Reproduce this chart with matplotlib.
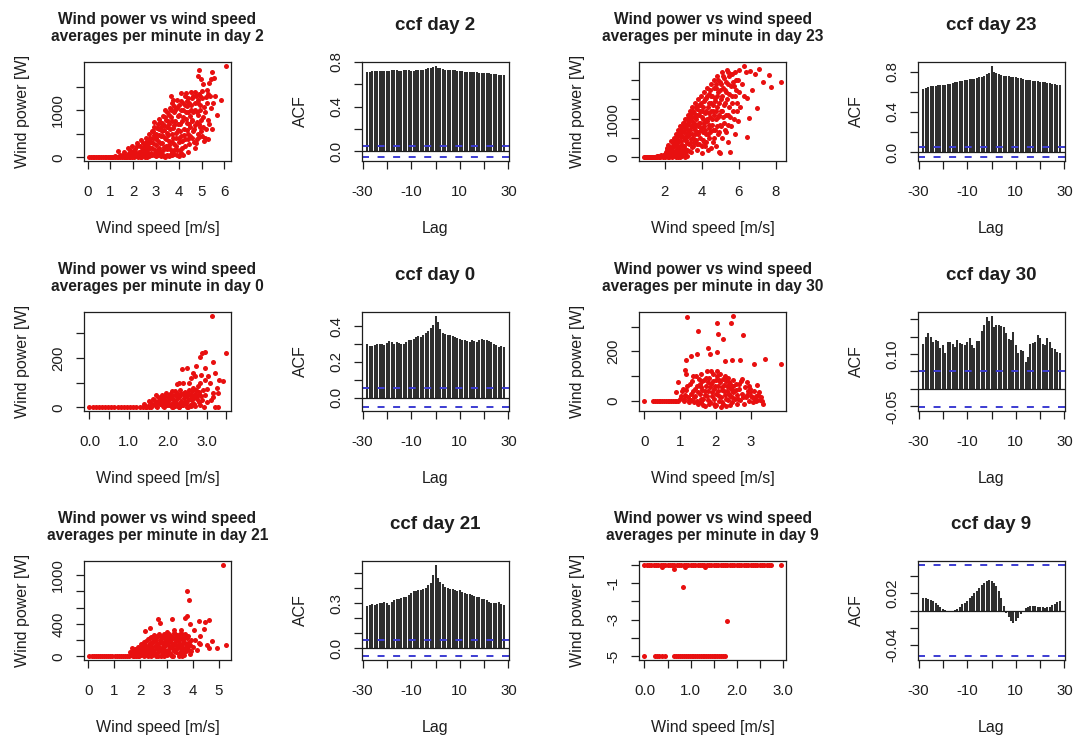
import numpy as np
import matplotlib
matplotlib.use("Agg")
import matplotlib.pyplot as plt

plt.rcParams['font.family'] = ['Liberation Sans', 'DejaVu Sans']

# ---- cross-correlation values, lags -28..28 ----
lags = np.arange(-28, 29)
clim = 0.0527   # 2/sqrt(1440)

acf_d2 = [0.710, 0.715, 0.718, 0.720, 0.722, 0.722, 0.720, 0.718, 0.720, 0.722,
          0.724, 0.725, 0.724, 0.722, 0.722, 0.724, 0.725, 0.724, 0.722, 0.722,
          0.724, 0.726, 0.728, 0.732, 0.738, 0.742, 0.746, 0.752, 0.765, 0.750,
          0.742, 0.736, 0.732, 0.730, 0.728, 0.726, 0.724, 0.722, 0.718, 0.716,
          0.714, 0.712, 0.712, 0.710, 0.708, 0.708, 0.706, 0.705, 0.704, 0.702,
          0.700, 0.697, 0.694, 0.690, 0.687, 0.684, 0.682]
acf_d23 = [0.630, 0.640, 0.648, 0.652, 0.658, 0.660, 0.662, 0.665, 0.666, 0.668,
           0.672, 0.678, 0.685, 0.692, 0.700, 0.706, 0.710, 0.714, 0.718, 0.722,
           0.726, 0.730, 0.735, 0.742, 0.750, 0.760, 0.772, 0.790, 0.858, 0.800,
           0.782, 0.772, 0.766, 0.760, 0.756, 0.752, 0.748, 0.745, 0.742, 0.738,
           0.732, 0.726, 0.720, 0.716, 0.712, 0.710, 0.708, 0.705, 0.700, 0.696,
           0.692, 0.688, 0.684, 0.680, 0.676, 0.670, 0.662]
acf_d0 = [0.300, 0.290, 0.288, 0.295, 0.300, 0.302, 0.298, 0.292, 0.305, 0.318,
          0.312, 0.300, 0.310, 0.305, 0.298, 0.302, 0.312, 0.320, 0.325, 0.330,
          0.340, 0.342, 0.340, 0.350, 0.362, 0.375, 0.392, 0.405, 0.458, 0.420,
          0.382, 0.362, 0.355, 0.350, 0.350, 0.345, 0.340, 0.335, 0.330, 0.325,
          0.320, 0.315, 0.312, 0.320, 0.316, 0.312, 0.322, 0.328, 0.325, 0.322,
          0.318, 0.310, 0.302, 0.292, 0.285, 0.288, 0.283]
acf_d30 = [0.130, 0.149, 0.161, 0.149, 0.135, 0.141, 0.138, 0.116, 0.125, 0.102,
           0.135, 0.135, 0.130, 0.120, 0.140, 0.133, 0.130, 0.125, 0.135, 0.146,
           0.127, 0.116, 0.138, 0.138, 0.165, 0.182, 0.205, 0.196, 0.210, 0.177,
           0.184, 0.182, 0.179, 0.177, 0.161, 0.144, 0.140, 0.163, 0.127, 0.102,
           0.113, 0.109, 0.078, 0.092, 0.130, 0.133, 0.135, 0.154, 0.146, 0.130,
           0.127, 0.147, 0.135, 0.116, 0.114, 0.107, 0.102]
acf_d21 = [0.283, 0.290, 0.293, 0.288, 0.295, 0.300, 0.302, 0.305, 0.298, 0.290,
           0.310, 0.318, 0.325, 0.330, 0.335, 0.340, 0.338, 0.355, 0.368, 0.378,
           0.382, 0.386, 0.390, 0.395, 0.402, 0.420, 0.435, 0.485, 0.555, 0.465,
           0.440, 0.425, 0.410, 0.400, 0.395, 0.392, 0.388, 0.380, 0.385, 0.375,
           0.368, 0.360, 0.358, 0.352, 0.345, 0.340, 0.338, 0.330, 0.325, 0.318,
           0.310, 0.302, 0.300, 0.298, 0.305, 0.295, 0.288]
acf_d9 = [0.0143, 0.0140, 0.0132, 0.0120, 0.0105, 0.0088, 0.0068, 0.0045, 0.0022, 0.0005,
          -0.0012, -0.0015, -0.0008, 0.0005, 0.0020, 0.0040, 0.0070, 0.0090, 0.0110, 0.0140,
          0.0170, 0.0200, 0.0226, 0.0260, 0.0290, 0.0320, 0.0340, 0.0347, 0.0340, 0.0320,
          0.0280, 0.0220, 0.0140, 0.0050, -0.0030, -0.0080, -0.0120, -0.0138, -0.0125, -0.0090,
          -0.0045, -0.0005, 0.0025, 0.0042, 0.0050, 0.0052, 0.0050, 0.0045, 0.0040, 0.0035,
          0.0032, 0.0035, 0.0045, 0.0060, 0.0078, 0.0095, 0.0110]

# ---- per-minute averages (wind speed [m/s], wind power [W]) ----
pts_d2 = [
    (0.08, 0), (0.15, 0), (0.22, 0), (0.3, 0), (0.38, 0), (0.45, 0), (0.52, 0), (0.6, 0),
    (0.68, 0), (0.75, 0), (0.82, 0), (0.9, 0), (0.98, 0), (1.05, 0), (1.12, 0), (1.2, 0),
    (1.28, 0), (1.35, 0), (1.42, 0), (1.5, 0), (1.58, 0), (1.65, 0), (1.72, 0), (1.8, 0),
    (1.88, 0), (1.95, 0), (2.05, 0), (2.2, 0), (2.35, 0), (2.5, 0),
    (1.0, 10), (1.2, 25), (1.32, 143), (1.4, 40),
    (1.55, 60), (1.6, 120), (1.7, 30), (1.75, 200), (1.8, 90), (1.85, 150), (1.9, 40),
    (1.95, 250), (2.0, 110),
    (2.05, 60), (2.1, 180), (2.15, 300), (2.2, 20), (2.25, 120), (2.3, 240), (2.32, 357),
    (2.4, 80), (2.45, 190), (2.5, 290), (2.5, 30),
    (2.55, 420), (2.6, 150), (2.62, 250), (2.65, 60), (2.68, 500), (2.7, 350), (2.75, 200),
    (2.8, 100), (2.82, 550), (2.85, 300), (2.88, 420), (2.9, 750), (2.92, 650), (2.95, 160),
    (2.98, 380), (3.0, 500), (3.0, 260), (2.6, 10), (2.8, 40), (3.0, 20),
    (3.05, 80), (3.08, 700), (3.1, 350), (3.12, 600), (3.15, 200), (3.18, 750), (3.2, 450),
    (3.22, 30), (3.25, 550), (3.28, 300), (3.3, 880), (3.32, 150), (3.35, 680), (3.38, 420),
    (3.4, 1000), (3.42, 250), (3.45, 800), (3.48, 520), (3.5, 60), (3.5, 950), (3.3, 60),
    (3.2, 90), (3.4, 15),
    (3.55, 350), (3.58, 700), (3.6, 1050), (3.62, 180), (3.65, 850), (3.68, 500), (3.7, 1150),
    (3.72, 50), (3.75, 620), (3.75, 1210), (3.78, 950), (3.8, 280), (3.85, 780), (3.88, 420),
    (3.9, 1210), (3.92, 150), (3.95, 880), (3.98, 580), (4.0, 1100), (4.0, 320), (3.65, 1290),
    (3.6, 40), (3.8, 80), (4.0, 30),
    (4.05, 700), (4.08, 1000), (4.1, 450), (4.11, 1357), (4.15, 200), (4.18, 850), (4.2, 1150),
    (4.22, 600), (4.25, 1300), (4.28, 380), (4.3, 950), (4.33, 1371), (4.35, 720), (4.38, 1080),
    (4.4, 500), (4.42, 1250), (4.45, 280), (4.48, 880), (4.54, 1392), (4.5, 650), (4.2, 60),
    (4.4, 120),
    (4.55, 1100), (4.58, 420), (4.6, 800), (4.62, 1300), (4.65, 600), (4.7, 1000), (4.72, 1380),
    (4.75, 300), (4.78, 750), (4.83, 1214), (4.82, 500), (4.85, 900), (4.88, 1350), (4.9, 1856),
    (4.92, 650), (4.95, 1100), (4.97, 1664), (5.0, 450), (4.83, 1714), (4.9, 428), (4.7, 200),
    (5.05, 850), (5.11, 1071), (5.12, 350), (5.19, 1285), (5.2, 600), (5.25, 1420), (5.33, 714),
    (5.33, 1571), (5.4, 1050), (5.47, 1800), (5.54, 1678), (5.6, 1300), (5.69, 892),
    (5.86, 1214), (6.05, 1942), (5.3, 380), (5.15, 420),
    (1.52, 20), (1.62, 50), (1.68, 15), (1.78, 60), (1.83, 25), (1.93, 80), (1.98, 30),
    (2.08, 20), (2.23, 60), (2.33, 10), (2.42, 40), (2.52, 70), (2.7, 25), (2.9, 60),
    (3.1, 45), (3.35, 30), (3.55, 20), (3.7, 110), (3.9, 60), (4.1, 100),
    (2.03, 140), (2.13, 90), (2.18, 230), (2.28, 40), (2.38, 150), (2.43, 300), (2.48, 110),
    (2.53, 210), (2.57, 330), (2.63, 100), (2.67, 280), (2.73, 420), (2.77, 50), (2.79, 320),
    (2.84, 200), (2.87, 560), (2.93, 470), (2.97, 90), (3.02, 400), (3.04, 620), (3.07, 150),
    (3.11, 480), (3.14, 820), (3.17, 310), (3.21, 650), (3.24, 120), (3.27, 720), (3.29, 450),
    (3.33, 580), (3.36, 220), (3.39, 860), (3.44, 380), (3.46, 640), (3.49, 180), (3.52, 760),
    (3.54, 480), (3.57, 900), (3.59, 260), (3.63, 600), (3.66, 1000), (3.69, 320), (3.71, 780),
    (3.74, 420), (3.77, 1080), (3.79, 150), (3.81, 680), (3.84, 1000), (3.87, 520), (3.89, 230),
    (3.93, 1050), (3.96, 700), (3.99, 400), (4.02, 900), (4.04, 160), (4.07, 560), (4.09, 1200),
    (4.13, 780), (4.16, 350), (4.19, 1000), (4.23, 480), (4.26, 1100), (4.29, 250), (4.31, 820),
    (4.34, 580), (4.36, 1200), (4.39, 380), (4.41, 950), (4.44, 700), (4.46, 1150), (4.49, 450),
    (4.52, 1000), (4.56, 780), (4.59, 1250), (4.61, 550), (4.64, 950), (4.67, 320), (4.69, 1150),
    (4.73, 680), (4.76, 1300), (4.79, 950), (4.81, 380), (4.84, 1150), (4.87, 700), (4.91, 1000),
    (4.94, 1300), (4.96, 550), (4.99, 800), (5.02, 1250), (5.08, 650), (5.14, 950), (5.22, 1150),
    (5.28, 800), (5.37, 1300), (5.45, 600), (5.52, 1150), (5.27, 1350), (5.43, 1650),
    (5.05, 1550), (5.0, 1400),
]
pts_d23 = [
    (0.9, 0), (1.0, 5), (1.1, 0), (1.2, 10), (1.3, 0), (1.4, 15), (1.5, 5), (1.6, 30),
    (1.7, 10), (1.8, 50), (1.9, 20), (2.0, 80), (2.1, 40), (2.0, 10), (1.6, 0), (1.05, 20),
    (1.25, 0), (1.45, 0), (1.75, 0), (2.2, 0), (2.4, 10), (2.6, 0), (2.8, 20),
    (0.95, 0), (1.15, 0), (1.35, 0), (1.55, 10), (1.65, 40), (1.85, 30), (1.95, 60),
    (2.25, 20), (2.45, 70), (2.7, 10), (2.9, 30), (3.1, 0),
    (2.05, 150), (2.1, 250), (2.15, 60), (2.2, 320), (2.25, 180), (2.3, 100), (2.35, 420),
    (2.4, 260), (2.45, 30), (2.5, 500), (2.5, 150),
    (2.55, 350), (2.6, 600), (2.62, 80), (2.65, 220), (2.7, 450), (2.72, 700), (2.75, 150),
    (2.8, 550), (2.82, 300), (2.85, 800), (2.88, 40), (2.9, 420), (2.92, 650), (2.95, 200),
    (2.98, 900), (3.0, 520),
    (3.05, 300), (3.08, 750), (3.1, 100), (3.12, 1000), (3.15, 450), (3.18, 620), (3.2, 850),
    (3.22, 200), (3.25, 1100), (3.28, 550), (3.3, 350), (3.32, 950), (3.35, 700), (3.38, 1200),
    (3.4, 150), (3.42, 480), (3.45, 850), (3.48, 1050), (3.5, 600), (3.5, 1300), (3.2, 30),
    (3.55, 300), (3.58, 900), (3.6, 1150), (3.62, 700), (3.65, 1400), (3.68, 450), (3.7, 1000),
    (3.72, 1250), (3.75, 200), (3.78, 800), (3.8, 1500), (3.82, 600), (3.85, 1100), (3.88, 350),
    (3.9, 1350), (3.92, 900), (3.95, 1600), (3.98, 700), (4.0, 1200), (4.0, 100),
    (4.05, 450), (4.08, 1000), (4.1, 1450), (4.12, 800), (4.15, 1700), (4.18, 300), (4.2, 1150),
    (4.22, 600), (4.25, 1550), (4.28, 950), (4.3, 1800), (4.32, 200), (4.35, 1300), (4.38, 750),
    (4.4, 1650), (4.42, 500), (4.45, 1050), (4.48, 1900), (4.5, 1400), (4.5, 250),
    (4.55, 850), (4.58, 1600), (4.6, 400), (4.62, 1200), (4.65, 2000), (4.7, 700), (4.72, 1450),
    (4.75, 1800), (4.78, 300), (4.8, 1000), (4.82, 2100), (4.85, 1300), (4.88, 600), (4.9, 1700),
    (4.92, 150), (4.95, 1100), (4.98, 1950), (5.0, 850), (5.0, 113),
    (5.05, 1500), (5.08, 2200), (5.1, 500), (5.12, 1200), (5.15, 1800), (5.2, 900), (5.22, 2050),
    (5.25, 1400), (5.3, 650), (5.32, 1700), (5.35, 2250), (5.4, 1100), (5.42, 400), (5.45, 1900),
    (5.5, 1300), (5.55, 140), (5.5, 2100), (5.55, 2158),
    (5.6, 800), (5.62, 1600), (5.65, 2150), (5.7, 1200), (5.75, 1850), (5.8, 600), (5.85, 2000),
    (5.9, 1400), (5.95, 950), (6.0, 2250), (6.0, 1700),
    (6.1, 1300), (6.2, 1900), (6.27, 2375), (6.3, 1600), (6.45, 530), (6.55, 1010), (6.45, 1550),
    (6.64, 2245), (6.7, 1750), (6.9, 2158), (7.0, 1290), (7.1, 2300), (7.3, 1950), (7.63, 2140),
    (7.73, 1810), (8.27, 1940), (6.4, 2200),
    (2.07, 100), (2.12, 200), (2.17, 30), (2.22, 140), (2.27, 280), (2.32, 60), (2.37, 200),
    (2.42, 380), (2.47, 120), (2.52, 300), (2.57, 460), (2.6, 180), (2.64, 380), (2.67, 560),
    (2.69, 60), (2.73, 280), (2.77, 620), (2.79, 420), (2.83, 180), (2.87, 700), (2.9, 560),
    (2.93, 320), (2.96, 780), (2.99, 120), (3.02, 660), (3.04, 880), (3.07, 450), (3.09, 220),
    (3.13, 800), (3.16, 550), (3.19, 1000), (3.21, 380), (3.24, 700), (3.27, 900), (3.29, 160),
    (3.33, 600), (3.36, 1050), (3.39, 380), (3.41, 800), (3.44, 1150), (3.47, 280), (3.49, 950),
    (3.52, 500), (3.54, 1200), (3.57, 750), (3.59, 400), (3.63, 1050), (3.66, 600), (3.69, 1300),
    (3.71, 850), (3.74, 350), (3.77, 1100), (3.79, 650), (3.83, 1350), (3.86, 900), (3.89, 500),
    (3.91, 1200), (3.94, 750), (3.97, 1400), (3.99, 300), (4.03, 1050), (4.06, 650), (4.09, 1300),
    (4.11, 400), (4.14, 900), (4.17, 1500), (4.19, 700), (4.23, 1200), (4.26, 400), (4.29, 1000),
    (4.31, 1600), (4.34, 600), (4.37, 1150), (4.39, 1400), (4.41, 850), (4.44, 1750), (4.47, 650),
    (4.49, 1200), (4.53, 1600), (4.56, 1000), (4.59, 1350), (4.61, 700), (4.64, 1800),
    (4.67, 1100), (4.69, 500), (4.73, 1550), (4.76, 1200), (4.79, 1900), (4.81, 800),
    (4.84, 1600), (4.87, 1050), (4.89, 2000), (4.91, 1400), (4.94, 650), (4.97, 1750),
    (5.02, 1200), (5.04, 1900), (5.07, 800), (5.11, 1600), (5.14, 1050), (5.17, 2100),
    (5.21, 1350), (5.24, 700), (5.27, 1750), (5.31, 1100), (5.34, 1950), (5.37, 1500),
    (5.41, 850), (5.44, 2200), (5.47, 1650), (5.52, 1050), (5.57, 1850), (5.64, 1400),
    (5.68, 1950), (5.73, 1000), (5.78, 1600), (5.83, 2200), (5.88, 1750), (5.93, 1200),
    (5.98, 2000),
]
pts_d0 = [
    (0.0, 0), (0.08, 0), (0.16, 0), (0.24, 0), (0.32, 0), (0.4, 0), (0.48, 0), (0.56, 0),
    (0.64, 0), (0.72, 0), (0.8, 0), (0.88, 0), (0.96, 0), (1.04, 0), (1.12, 0), (1.2, 0),
    (1.28, 0), (1.36, 0), (1.44, 0), (1.52, 0), (1.9, 0), (2.1, 0), (2.3, 0), (2.5, 0),
    (1.4, 15), (1.5, 5), (1.55, 20), (1.6, 10), (1.65, 30), (1.7, 5), (1.72, 20), (1.75, 40),
    (1.8, 12), (1.82, 28), (1.85, 50), (1.88, 5), (1.9, 35), (1.92, 18), (1.95, 60), (1.98, 8),
    (2.0, 42), (2.02, 25), (2.05, 55), (2.08, 12), (2.1, 38), (2.12, 65), (2.15, 20), (2.18, 48),
    (2.2, 5), (2.22, 30), (2.25, 58), (2.28, 15), (2.3, 42), (2.32, 70), (2.35, 25), (2.38, 52),
    (2.4, 8), (2.42, 36), (2.45, 62), (2.48, 18), (2.5, 45), (2.52, 28), (2.55, 72), (2.58, 10),
    (2.6, 50), (2.62, 30), (2.65, 80), (2.68, 15), (2.7, 55), (2.75, 35), (2.78, 85), (2.8, 20),
    (2.85, 45), (2.9, 70), (1.7, 50), (2.6, 5),
    (1.45, 0), (1.52, 25), (1.58, 0), (1.62, 35), (1.68, 18), (1.73, 0), (1.77, 25), (1.83, 40),
    (1.87, 20), (1.93, 45), (1.97, 25), (2.03, 10), (2.07, 35), (2.11, 50), (2.13, 0), (2.17, 30),
    (2.2, 65), (2.23, 15), (2.27, 40), (2.29, 0), (2.33, 55), (2.37, 10), (2.41, 60), (2.44, 20),
    (2.47, 50), (2.51, 0), (2.53, 60), (2.57, 35), (2.61, 15), (2.63, 65), (2.67, 40), (2.69, 5),
    (2.72, 70), (2.76, 45), (2.8, 55), (2.82, 10), (2.88, 30), (2.95, 50), (3.0, 20), (3.1, 30),
    (3.15, 60), (3.3, 110), (2.4, 100), (2.25, 95), (2.6, 120), (2.65, 140), (2.85, 130),
    (2.95, 110), (3.0, 75), (3.2, 140),
    (3.125, 371), (3.48, 220), (2.875, 220), (2.96, 224), (2.83, 203), (3.17, 182), (2.73, 168),
    (2.5, 161), (2.375, 154), (2.96, 161), (3.04, 126), (2.71, 126), (2.54, 98), (2.29, 98),
    (2.83, 98), (3.08, 98), (3.42, 105), (3.25, 77), (3.29, 56), (3.17, 42), (2.92, 0),
    (3.2, 0), (3.29, 0), (2.79, 63),
]
pts_d30 = [
    (0.0, 0), (0.25, 0), (0.3, 0), (0.35, 0), (0.4, 0), (0.45, 0), (0.5, 0), (0.55, 0),
    (0.6, 0), (0.65, 0), (0.7, 0), (0.75, 0), (0.8, 0), (0.85, 0), (0.9, 0), (0.95, 0),
    (1.0, 10), (1.05, 40), (1.1, 0), (1.15, 25), (1.2, 60), (1.25, 5), (1.3, 30), (1.35, 80),
    (1.4, 15), (1.42, 50), (1.45, 100), (1.5, -10), (1.52, 35), (1.55, 70), (1.58, 10),
    (1.6, 110), (1.62, 45), (1.65, -15), (1.68, 85), (1.7, 25), (1.72, 60), (1.75, 120),
    (1.78, 5), (1.8, 40), (1.82, 95), (1.85, -5), (1.88, 70), (1.9, 20), (1.92, 110), (1.95, 50),
    (1.98, -20), (2.0, 85), (2.02, 30), (2.05, 100), (2.08, 60), (2.1, 0), (2.12, 75), (2.15, 15),
    (2.18, 45), (2.2, 90), (2.22, -10), (2.25, 65), (2.28, 25), (2.3, 80), (2.32, 40), (2.35, 5),
    (2.38, 55), (2.4, 20), (2.42, 70), (2.45, -5), (2.48, 35), (2.5, 60), (2.55, 10), (2.58, 45),
    (2.6, 25), (2.65, 70), (2.7, 5), (2.75, 30), (2.8, -10), (2.85, 15), (2.9, 40), (2.95, 0),
    (3.0, 20), (3.05, -5), (3.1, 10), (3.15, 0), (3.2, 25), (3.25, 5), (3.3, 0), (3.35, -10),
    (1.7, -20), (2.0, -15), (2.3, -20), (1.4, -5),
    (1.02, 20), (1.08, 50), (1.12, 10), (1.17, 45), (1.22, 15), (1.27, 70), (1.32, 5),
    (1.37, 40), (1.38, 100), (1.43, 20), (1.47, 60), (1.49, 0), (1.53, 90), (1.57, 30),
    (1.59, 55), (1.63, 80), (1.66, 10), (1.69, 40), (1.73, 95), (1.76, 20), (1.79, 75),
    (1.81, -10), (1.84, 55), (1.87, 120), (1.89, 35), (1.93, 80), (1.96, 10), (1.99, 60),
    (2.03, 120), (2.06, 40), (2.09, 85), (2.11, 20), (2.14, 110), (2.17, 55), (2.19, -5),
    (2.23, 40), (2.26, 100), (2.29, 10), (2.31, 60), (2.34, 95), (2.37, 30), (2.39, 75),
    (2.43, 50), (2.46, 15), (2.49, 85), (2.52, 40), (2.57, 70), (2.62, 10), (2.67, 50),
    (2.72, 80), (2.77, 15), (2.82, 55), (2.88, 25), (2.93, 60), (2.98, 35), (3.03, 15),
    (3.08, 40), (3.13, 20), (3.18, 5), (3.28, 15), (1.95, -10), (2.15, -25), (2.4, -15),
    (1.6, -5), (2.6, -10), (1.25, -5),
    (1.21, 337), (2.49, 344), (1.51, 284), (2.03, 313), (2.08, 271), (2.2, 251), (2.43, 315),
    (2.77, 267), (1.8, 213), (1.85, 191), (2.03, 197), (1.18, 164), (1.32, 180), (1.47, 191),
    (2.28, 160), (2.47, 164), (2.69, 164), (3.07, 151), (3.38, 171), (3.83, 151), (1.14, 124),
    (1.18, 111), (2.74, 91), (2.89, 77), (2.98, 48), (3.17, 64), (3.22, 37), (0.9, 37),
    (0.95, 77),
]
pts_d21 = [
    (0.05, 0), (0.13, 0), (0.21, 0), (0.29, 0), (0.37, 0), (0.45, 0), (0.53, 0), (0.61, 0),
    (0.69, 0), (0.77, 0), (0.85, 0), (0.93, 0), (1.01, 0), (1.09, 0), (1.17, 0), (1.25, 0),
    (1.33, 0), (1.41, 0), (1.49, 0), (1.57, 0),
    (1.65, 20), (1.7, 60), (1.75, 10), (1.8, 90), (1.85, 35), (1.9, 120), (1.95, 5), (2.0, 70),
    (2.02, 150), (2.05, 40), (2.1, 100), (2.12, 10), (2.15, 180), (2.2, 60), (2.22, 130),
    (2.25, 25), (2.3, 210), (2.32, 90), (2.35, 160), (2.38, 45), (2.4, 240), (2.42, 110),
    (2.45, 15), (2.48, 190), (2.5, 70), (2.52, 260), (2.55, 130), (2.58, 30), (2.6, 220),
    (2.62, 90), (2.65, 170), (2.68, 50), (2.7, 270), (2.72, 120), (2.75, 200), (2.78, 10),
    (2.8, 80), (2.82, 240), (2.85, 150), (2.88, 40), (2.9, 280), (2.92, 110), (2.95, 190),
    (2.98, 60), (3.0, 230), (3.02, 20), (3.05, 140), (3.08, 270), (3.1, 90), (3.12, 200),
    (3.15, 45), (3.18, 250), (3.2, 120), (3.22, 170), (3.25, 10), (3.28, 290), (3.3, 80),
    (3.32, 220), (3.35, 140), (3.38, 50), (3.4, 260), (3.42, 100), (3.45, 190), (3.48, 30),
    (3.5, 280), (3.52, 150), (3.55, 70), (3.58, 230), (3.6, 120), (3.62, 40), (3.65, 200),
    (3.68, 90), (3.7, 270), (3.72, 160), (3.75, 60), (3.78, 220), (3.8, 110), (3.85, 180),
    (3.9, 140), (1.9, 0), (2.3, 5), (2.6, 0), (2.9, 10), (3.2, 0), (3.6, 5),
    (1.68, 40), (1.72, 0), (1.78, 50), (1.82, 10), (1.88, 70), (1.92, 40), (1.98, 100),
    (2.03, 20), (2.07, 130), (2.08, 60), (2.13, 150), (2.17, 80), (2.18, 20), (2.23, 190),
    (2.27, 100), (2.28, 40), (2.33, 140), (2.37, 220), (2.39, 10), (2.43, 170), (2.47, 80),
    (2.49, 240), (2.53, 40), (2.57, 200), (2.59, 110), (2.63, 250), (2.67, 10), (2.69, 150),
    (2.73, 60), (2.77, 240), (2.79, 180), (2.83, 20), (2.87, 120), (2.89, 220), (2.93, 70),
    (2.97, 260), (2.99, 150), (3.03, 200), (3.07, 60), (3.09, 180), (3.13, 250), (3.17, 110),
    (3.19, 20), (3.23, 220), (3.27, 150), (3.29, 60), (3.33, 270), (3.37, 190), (3.39, 100),
    (3.43, 240), (3.47, 130), (3.49, 10), (3.53, 210), (3.57, 100), (3.59, 280), (3.63, 170),
    (3.67, 20), (3.69, 240), (3.73, 110), (3.77, 150), (3.82, 250), (3.87, 80), (3.92, 200),
    (3.95, 60), (3.88, 30), (4.0, 120), (4.1, 200), (4.15, 80), (4.3, 150), (3.0, 300),
    (3.3, 320), (3.55, 330),
    (5.15, 1130), (3.78, 800), (3.85, 693), (3.78, 500), (3.2, 460), (2.69, 460), (2.76, 417),
    (3.72, 468), (3.91, 395), (4.23, 438), (4.49, 425), (4.62, 446), (4.42, 340), (4.04, 323),
    (4.29, 255), (4.55, 140), (4.62, 106), (4.94, 98), (5.26, 140), (4.74, 183), (4.23, 162),
    (2.37, 352), (2.18, 310), (1.67, 98), (1.6, 55),
]
pts_d9 = [
    (0.0, 0), (0.05, 0), (0.1, 0), (0.15, 0), (0.2, 0), (0.25, 0), (0.3, 0), (0.35, 0),
    (0.4, 0), (0.45, 0), (0.5, 0), (0.55, 0), (0.6, 0), (0.65, 0), (0.7, 0), (0.75, 0),
    (0.8, 0), (0.85, 0), (0.9, 0), (0.95, 0), (1.0, 0), (1.05, 0), (1.1, 0), (1.15, 0),
    (1.2, 0), (1.25, 0), (1.3, 0), (1.35, 0), (1.4, 0), (1.45, 0), (1.5, 0), (1.55, 0),
    (1.6, 0), (1.65, 0), (1.7, 0), (1.75, 0), (1.8, 0), (1.85, 0), (1.9, 0), (1.95, 0),
    (2.0, 0), (2.05, 0), (2.1, 0), (2.15, 0), (2.2, 0), (2.25, 0), (2.3, 0), (2.35, 0),
    (2.4, 0), (2.45, 0), (2.5, 0), (2.55, 0), (2.6, 0), (2.65, 0), (2.7, 0), (2.75, 0),
    (2.95, 0), (0.39, -0.12), (0.88, -0.1), (1.32, -0.1), (0.63, -0.26), (0.83, -1.22),
    (1.79, -3.06),
    (0.0, -5), (0.22, -5), (0.27, -5), (0.32, -5), (0.38, -5), (0.44, -5), (0.63, -5),
    (0.68, -5), (0.72, -5), (0.77, -5), (0.82, -5), (0.86, -5), (0.9, -5), (0.94, -5),
    (0.98, -5), (1.02, -5), (1.06, -5), (1.1, -5), (1.14, -5), (1.18, -5), (1.22, -5),
    (1.26, -5), (1.3, -5), (1.34, -5), (1.38, -5), (1.42, -5), (1.46, -5), (1.5, -5),
    (1.54, -5), (1.58, -5), (1.62, -5), (1.66, -5), (1.7, -5), (1.74, -5),
]

# ---- axis ticks ----
xt_d2, xl_d2 = [0, 1, 2, 3, 4, 5, 6], ['0', '1', '2', '3', '4', '5', '6']
yt_d2, yl_d2 = [0, 500, 1000, 1500], ['0', '', '1000', '']
xt_d23, xl_d23 = [2, 4, 6, 8], ['2', '4', '6', '8']
yt_d23, yl_d23 = [0, 500, 1000, 1500, 2000], ['0', '', '1000', '', '']
xt_d0, xl_d0 = [0, 0.5, 1, 1.5, 2, 2.5, 3, 3.5], ['0.0', '', '1.0', '', '2.0', '', '3.0', '']
yt_d0, yl_d0 = [0, 100, 200, 300], ['0', '', '200', '']
xt_d30, xl_d30 = [0, 1, 2, 3], ['0', '1', '2', '3']
yt_d30, yl_d30 = [0, 100, 200, 300], ['0', '', '200', '']
xt_d21, xl_d21 = [0, 1, 2, 3, 4, 5], ['0', '1', '2', '3', '4', '5']
yt_d21, yl_d21 = [0, 200, 400, 600, 800, 1000], ['0', '', '400', '', '', '1000']
xt_d9, xl_d9 = [0, 0.5, 1, 1.5, 2, 2.5, 3], ['0.0', '', '1.0', '', '2.0', '', '3.0']
yt_d9, yl_d9 = [-5, -4, -3, -2, -1, 0], ['-5', '', '-3', '', '-1', '']

lag_t, lag_l = [-30, -20, -10, 0, 10, 20, 30], ['-30', '', '-10', '', '10', '', '30']
at_08, al_08 = [0, 0.2, 0.4, 0.6, 0.8], ['0.0', '', '0.4', '', '0.8']
at_d0, al_d0 = [0, 0.1, 0.2, 0.3, 0.4], ['0.0', '', '0.2', '', '0.4']
at_d30, al_d30 = [-0.05, 0, 0.05, 0.1, 0.15, 0.2], ['-0.05', '', '', '0.10', '', '']
at_d21, al_d21 = [0, 0.1, 0.2, 0.3, 0.4, 0.5], ['0.0', '', '', '0.3', '', '']
at_d9, al_d9 = [-0.04, -0.02, 0, 0.02, 0.04], ['-0.04', '', '', '0.02', '']

W, H = 1074, 737
INK = '#1e1e1e'
fig = plt.figure(figsize=(W / 100, H / 100), dpi=100)


def r_range(lo, hi):
    d = (hi - lo) * 0.04
    return lo - d, hi + d


def make_axes(col, row):
    left = [84, 362, 639, 918][col]
    top = [62, 312, 561][row]
    ax = fig.add_axes([left / W, 1 - (top + 99) / H, 147 / W, 99 / H])
    for s in ax.spines.values():
        s.set_linewidth(0.9)
        s.set_color(INK)
    ax.tick_params(direction='out', length=5.5, width=0.9,
                   labelsize=10.8, colors=INK)
    ax.tick_params(axis='x', pad=12)
    ax.tick_params(axis='y', pad=8)
    return ax


def finish(ax, xt, xl, yt, yl, xlabel, ylabel):
    ax.set_xticks(xt)
    ax.set_xticklabels(xl)
    ax.set_yticks(yt)
    ax.set_yticklabels(yl, rotation=90, va='center')
    ax.set_xlabel(xlabel, fontsize=11.5, color=INK)
    ax.set_ylabel(ylabel, fontsize=11.5, color=INK)
    ax.xaxis.set_label_coords(0.5, -0.61)
    ax.yaxis.set_label_coords(-0.37, 0.5)


def scatter_panel(col, row, day, pts, xt, xl, yt, yl):
    ax = make_axes(col, row)
    speed, power = np.array(pts, dtype=float).T
    ax.scatter(speed, power, s=13, c='#e81010', linewidths=0)
    ax.set_xlim(r_range(speed.min(), speed.max()))
    ax.set_ylim(r_range(power.min(), power.max()))
    ax.set_title("Wind power vs wind speed\naverages per minute in day %d" % day,
                 fontsize=11.2, fontweight='bold', pad=15, color=INK)
    finish(ax, xt, xl, yt, yl, 'Wind speed [m/s]', 'Wind power [W]')


def ccf_panel(col, row, day, vals, yt, yl):
    ax = make_axes(col, row)
    vals = np.asarray(vals)
    ax.vlines(lags, 0, vals, colors='#2e2e2e', linewidth=1.45)
    ax.axhline(0, color=INK, linewidth=0.9)
    for c in (clim, -clim):
        ax.axhline(c, color='#3c3cd2', linewidth=1.4, linestyle=(0, (3.6, 4.4)))
    ax.set_xlim(r_range(lags.min(), lags.max()))
    ax.set_ylim(r_range(min(vals.min(), -clim), max(vals.max(), clim)))
    ax.set_title("ccf day %d" % day, fontsize=13.5, fontweight='bold', pad=23, color=INK)
    finish(ax, lag_t, lag_l, yt, yl, 'Lag', 'ACF')


scatter_panel(0, 0, 2, pts_d2, xt_d2, xl_d2, yt_d2, yl_d2)
ccf_panel(1, 0, 2, acf_d2, at_08, al_08)
scatter_panel(2, 0, 23, pts_d23, xt_d23, xl_d23, yt_d23, yl_d23)
ccf_panel(3, 0, 23, acf_d23, at_08, al_08)

scatter_panel(0, 1, 0, pts_d0, xt_d0, xl_d0, yt_d0, yl_d0)
ccf_panel(1, 1, 0, acf_d0, at_d0, al_d0)
scatter_panel(2, 1, 30, pts_d30, xt_d30, xl_d30, yt_d30, yl_d30)
ccf_panel(3, 1, 30, acf_d30, at_d30, al_d30)

scatter_panel(0, 2, 21, pts_d21, xt_d21, xl_d21, yt_d21, yl_d21)
ccf_panel(1, 2, 21, acf_d21, at_d21, al_d21)
scatter_panel(2, 2, 9, pts_d9, xt_d9, xl_d9, yt_d9, yl_d9)
ccf_panel(3, 2, 9, acf_d9, at_d9, al_d9)

fig.savefig('out.png', dpi=100, facecolor='white')
